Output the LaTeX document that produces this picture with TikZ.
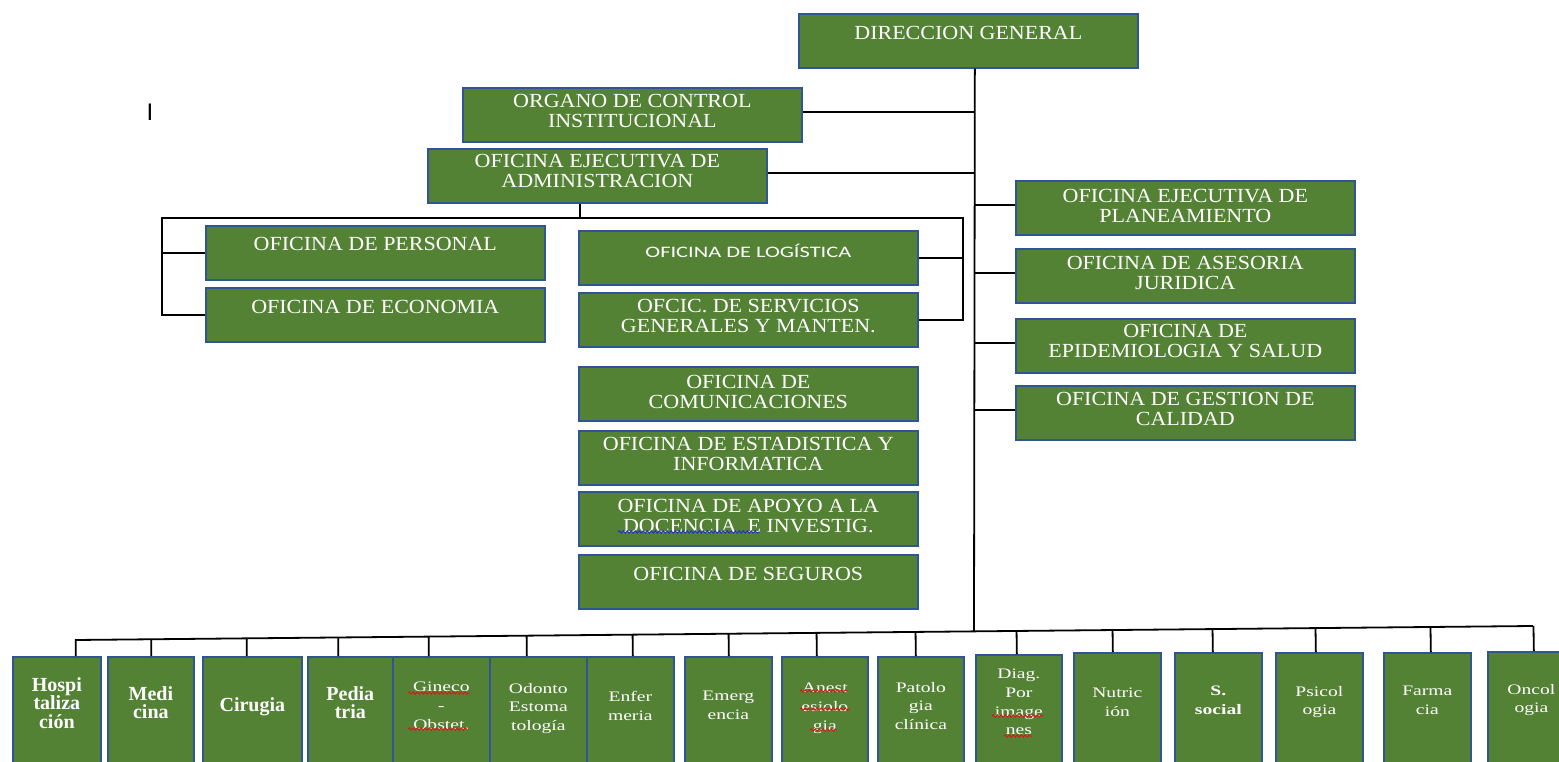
\documentclass[tikz,border=0pt]{standalone}
\usepackage{fontspec}
\setmainfont{Liberation Serif}
\newfontfamily\mainf[FakeStretch=1.1]{Liberation Serif}
\newfontfamily\smallf[FakeStretch=1.35]{Liberation Serif}
\newfontfamily\logf[FakeStretch=1.4]{Carlito}
\newfontfamily\barf{Liberation Sans}
\usetikzlibrary{calc,decorations.pathmorphing}

\definecolor{boxgreen}{RGB}{84,130,53}
\definecolor{boxblue}{RGB}{47,85,151}
\definecolor{spellred}{RGB}{215,25,25}
\definecolor{spellblue}{RGB}{35,45,215}

\tikzset{
  unitbox/.style={draw=boxblue, line width=1.7pt, fill=boxgreen,
    minimum width=339pt, minimum height=54pt, inner sep=0pt, anchor=north west},
  unittext/.style={text=white, align=center, inner sep=0pt, anchor=north,
    font=\mainf\fontsize{20}{20}\selectfont},
  svcbox/.style={draw=boxblue, line width=1.7pt, fill=boxgreen,
    minimum height=125pt, inner sep=0pt, anchor=north west},
  svctext/.style={text=white, align=center, inner sep=0pt, anchor=north,
    font=\smallf\fontsize{14.5}{18.7}\selectfont},
  svcbold/.style={svctext, font=\bfseries\fontsize{20}{18.7}\selectfont},
  svcsbold/.style={svctext, font=\smallf\bfseries\fontsize{14.5}{18.7}\selectfont},
  link/.style={draw=black, line width=1.8pt},
  spell/.style={decorate, decoration={snake, amplitude=1.1pt, segment length=4pt},
    line width=1pt},
}

% office box: name, left x, top y, text offset, text
\newcommand\unit[5]{%
  \node[unitbox] (#1) at (#2,#3) {};
  \node[unittext] (#1-txt) at ([yshift=-#4pt]#1.north) {#5};}

% service box: name, left x, top y, width, text offset, text style, text
\newcommand\service[7]{%
  \node[svcbox, minimum width=#4pt] (#1) at (#2,#3) {};
  \node[#6] (#1-txt) at ([yshift=-#5pt]#1.north) {#7};}

\begin{document}
\begin{tikzpicture}[x=1pt, y=-1pt]
\useasboundingbox (0,0) rectangle (1559,762);
\fill[white] (0,0) rectangle (1559,762);

% top management
\unit{dg}{798}{13}{13.1}{DIRECCION GENERAL}
\unit{oci}{462}{87}{7.1}{ORGANO DE CONTROL\\INSTITUCIONAL}
\unit{adm}{427}{148}{6.1}{OFICINA EJECUTIVA DE\\ADMINISTRACION}

% administration offices
\unit{per}{205}{225}{12.1}{OFICINA DE PERSONAL}
\unit{eco}{205}{287}{13.1}{OFICINA DE ECONOMIA}
\node[unitbox] (log) at (578,230) {};
\node[unittext, font=\logf\fontsize{16}{16}\selectfont] (log-txt)
  at ([yshift=-13.5pt]log.north) {OFICINA DE LOGÍSTICA};
\unit{ser}{578}{292}{7.1}{OFCIC. DE SERVICIOS\\GENERALES Y MANTEN.}

% support offices
\unit{com}{578}{366}{9.1}{OFICINA DE\\COMUNICACIONES}
\unit{est}{578}{430}{7.1}{OFICINA DE ESTADISTICA Y\\INFORMATICA}
\unit{apo}{578}{491}{8.1}{OFICINA DE APOYO A LA\\DOCENCIA\ \ E INVESTIG.}
\unit{seg}{578}{554}{13.1}{OFICINA DE SEGUROS}

% advisory offices
\unit{pla}{1015}{180}{9.1}{OFICINA EJECUTIVA DE\\PLANEAMIENTO}
\unit{asj}{1015}{248}{8.1}{OFICINA DE ASESORIA\\JURIDICA}
\unit{epi}{1015}{318}{6.1}{OFICINA DE\\EPIDEMIOLOGIA Y SALUD}
\unit{gca}{1015}{385}{7.1}{OFICINA DE GESTION DE\\CALIDAD}

% clinical services
\service{h1}{12}{656}{88}{21.1}{svcbold}{Hospi\\taliza\\ción}
\service{h2}{107}{656}{86}{30.1}{svcbold}{Medi\\cina}
\service{h3}{202}{656}{99}{41.1}{svcbold}{Cirugia}
\service{h4}{307}{656}{85}{30.1}{svcbold}{Pedia\\tria}
\service{h5}{392}{656}{97}{25.9}{svctext}{Gineco\\-\\Obstet.}
\service{h6}{489}{656}{97}{26.9}{svctext}{Odonto\\Estoma\\tología}
\service{h7}{586}{656}{87}{34.9}{svctext}{Enfer\\meria}
\service{h8}{684}{656}{87}{34.9}{svctext}{Emerg\\encia}
\service{h9}{781}{656}{86}{26.9}{svctext}{Anest\\esiolo\\gia}
\service{h10}{877}{656}{86}{25.9}{svctext}{Patolo\\gia\\clínica}
\service{h11}{975}{654}{86}{14.9}{svctext}{Diag.\\Por\\image\\nes}
\service{h12}{1073}{652}{87}{35.9}{svctext}{Nutric\\ión}
\service{h13}{1174}{652}{87}{33.9}{svcsbold}{S.\\social}
\service{h14}{1275}{652}{87}{33.9}{svctext}{Psicol\\ogia}
\service{h15}{1383}{652}{87}{33.9}{svctext}{Farma\\cia}
\service{h16}{1487}{651}{87}{32.9}{svctext}{Oncol\\ogia}

% main trunk and service bus
\coordinate (trunkTop) at ([xshift=6.5pt]dg.south);
\coordinate (busL) at (75,640);
\coordinate (busR) at (1533,626);
\coordinate (trunkBot) at ($(busL)!0.6166!(busR)$);
\draw[link] (trunkTop) -- (trunkBot);
\draw[link] (busL) -- (busR);
\foreach \n/\dx in {h1/19, h2/0.5, h3/-5.5, h4/-12, h5/-12.5, h6/-11.5, h7/2.5,
    h8/0.5, h9/-8, h10/-5, h11/-2, h12/-4.5, h13/-5.5, h14/-3.5, h15/3.5, h16/2.5}
  \draw[link] ([xshift=\dx pt]\n.north) -- ($(busL)!([xshift=\dx pt]\n.north)!(busR)$);

% staff and advisory branches
\foreach \n in {oci, adm}
  \draw[link] ([yshift=3pt]\n.east) -- ([yshift=3pt]\n.east -| trunkTop);
\foreach \n in {pla, asj, epi, gca}
  \draw[link] ([yshift=3pt]\n.west) -- ([yshift=3pt]\n.west -| trunkTop);

% administration bracket
\coordinate (admDrop) at ([xshift=-17.5pt]adm.south);
\coordinate (barL) at (162,218);
\coordinate (barR) at (963,218);
\draw[link] (admDrop) -- (admDrop |- barL);
\draw[link] (eco.west) -| (barL) -- (barR) |- (ser.east);
\draw[link] (per.west) -- (per.west -| barL);
\draw[link] (log.east) -- (log.east -| barR);

% spelling marks under words
\draw[spell, spellred] (408,693) -- (470,693);
\draw[spell, spellred] (408,729) -- (467,729);
\draw[spell, spellred] (800,691) -- (848,691);
\draw[spell, spellred] (800,709) -- (850,709);
\draw[spell, spellred] (810,730) -- (837,730);
\draw[spell, spellred] (992,716) -- (1043,716);
\draw[spell, spellred] (1004,736) -- (1032,736);
\draw[spell, spellblue] (618,532) -- (760,532);

% stray cursor mark
\node[font=\barf\fontsize{24}{24}\selectfont, inner sep=0pt] (cursor) at (150,112) {I};
\end{tikzpicture}
\end{document}
